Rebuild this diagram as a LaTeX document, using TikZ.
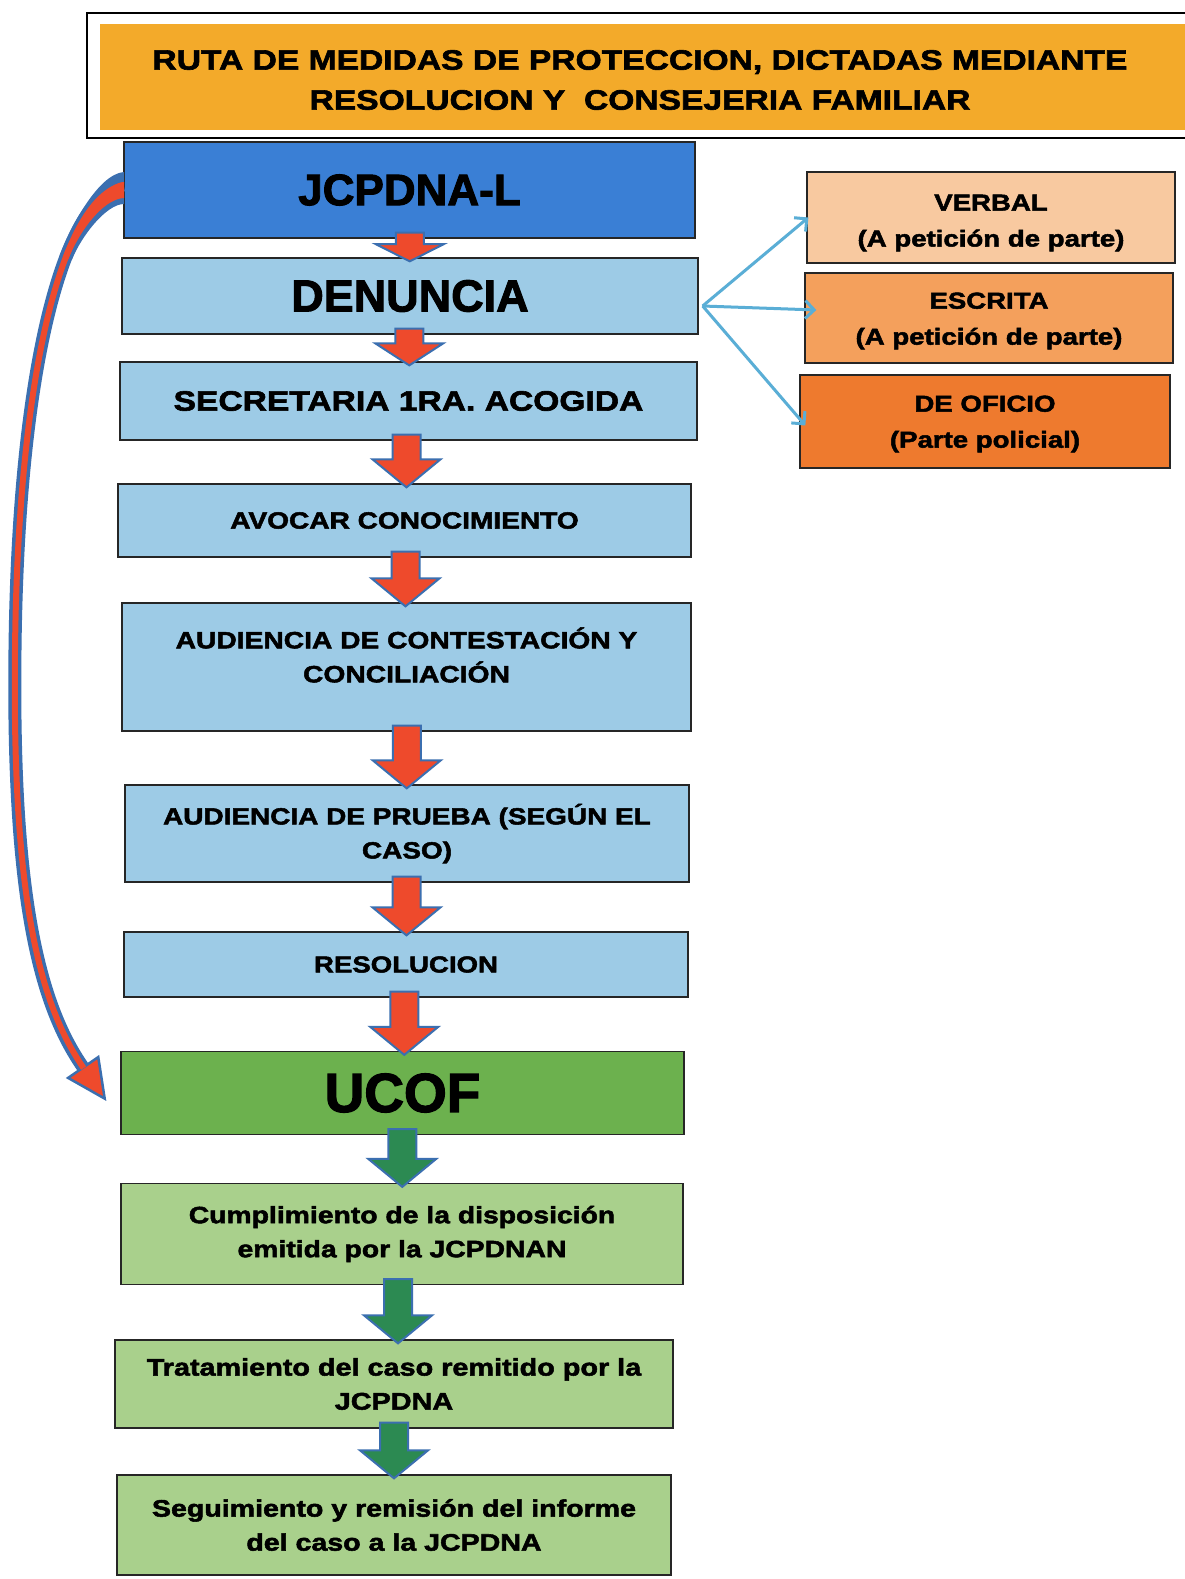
\documentclass[tikz,border=0pt]{standalone}
\usepackage{fontspec}
\setmainfont{Liberation Sans}
\newfontfamily\bk{Liberation Sans}[FakeStretch=1.2, BoldFeatures={FakeBold=2.2}]
\newfontfamily\bkn{Liberation Sans}[BoldFeatures={FakeBold=2.2}]
\usetikzlibrary{arrows.meta,calc}
\definecolor{titleor}{HTML}{F3AA2A}
\definecolor{jcblue}{HTML}{3A7FD5}
\definecolor{lblue}{HTML}{9DCBE6}
\definecolor{ucofg}{HTML}{6CB14E}
\definecolor{lgreen}{HTML}{A9D08C}
\definecolor{verbalc}{HTML}{F8C9A0}
\definecolor{escritac}{HTML}{F4A05C}
\definecolor{oficioc}{HTML}{EE7A2E}
\definecolor{arrred}{HTML}{EE4A2C}
\definecolor{arrgreen}{HTML}{2C8A52}
\definecolor{arrblue}{HTML}{3B6FB0}
\definecolor{conblue}{HTML}{5AAED6}
\newcommand\fs[2]{\fontsize{#1}{#2}\selectfont}
\tikzset{
  box/.style={draw=black!85, line width=1.3pt, inner sep=0pt, align=center, text=black},
  txt/.style={inner sep=0pt, align=center, text=black},
  barrow/.style={draw=arrblue, line width=2pt, line join=miter},
  conn/.style={draw=conblue, line width=3pt, -{Straight Barb[length=9pt,width=18pt,line width=3pt]}},
  bf/.style={font=\bk\bfseries\fs{#1}{34}},
  bfr/.style={font=\bk\bfseries\fs{#1}{36}},
  big/.style={font=\bkn\bfseries\fs{#1}{#1}}
}
\newcommand\downblock[3]{%
  \draw[barrow, fill=#3] let \p1=(#1.south), \p2=(#2.north),
    \n1={(\x1+\x2)/2}, \n2={min(28,0.6*(\y1-\y2+10))} in
    ({\n1*1pt-14pt},{\y1+6pt}) -- ({\n1*1pt-14pt},{\y2-4pt+\n2*1pt}) --
    ({\n1*1pt-34pt},{\y2-4pt+\n2*1pt}) -- ({\n1*1pt},{\y2-4pt}) --
    ({\n1*1pt+34pt},{\y2-4pt+\n2*1pt}) -- ({\n1*1pt+14pt},{\y2-4pt+\n2*1pt}) --
    ({\n1*1pt+14pt},{\y1+6pt}) -- cycle;}
\begin{document}
\begin{tikzpicture}[x=1pt,y=-1pt]
\useasboundingbox (0,0) rectangle (1185,1579);
\clip (0,0) rectangle (1185,1579);
\fill[white] (0,0) rectangle (1185,1579);
% title
\draw[black, line width=1.5pt, fill=white] (87,13) rectangle (1210,138);
\node[fill=titleor, inner sep=0pt, minimum width=1100pt, minimum height=106pt] (title) at (650,77) {};
\node[txt, font=\bk\bfseries\fs{28}{40}] (titlet) at (640,80)
  {RUTA DE MEDIDAS DE PROTECCION, DICTADAS MEDIANTE\\RESOLUCION Y\ \ CONSEJERIA FAMILIAR};
% left column
\node[box, fill=jcblue, minimum width=571pt, minimum height=96pt, big=44] (jc) at (409.5,190) {JCPDNA-L};
\node[box, fill=lblue, minimum width=576pt, minimum height=76pt, big=45] (den) at (410,296) {DENUNCIA};
\node[box, fill=lblue, minimum width=577pt, minimum height=78pt, bf=28] (sec) at (408.5,401) {SECRETARIA 1RA. ACOGIDA};
\node[box, fill=lblue, minimum width=573pt, minimum height=73pt, bf=23.4] (avo) at (404.5,520.5) {AVOCAR CONOCIMIENTO};
\node[box, fill=lblue, minimum width=569pt, minimum height=128pt] (aud) at (406.5,667) {};
\node[txt, bf=23.5] (audt) at (406.5,655) {AUDIENCIA DE CONTESTACIÓN Y\\CONCILIACIÓN};
\node[box, fill=lblue, minimum width=564pt, minimum height=97pt, bf=23.3] (pru) at (407,833.5) {AUDIENCIA DE PRUEBA (SEGÚN EL\\CASO)};
\node[box, fill=lblue, minimum width=564pt, minimum height=65pt, bf=23] (res) at (406,964.5) {RESOLUCION};
\node[box, fill=ucofg, minimum width=563pt, minimum height=83pt, big=55] (ucof) at (402.5,1093) {UCOF};
\node[box, fill=lgreen, minimum width=562pt, minimum height=101pt, bf=23.6] (cum) at (402,1234) {Cumplimiento de la disposición\\emitida por la JCPDNAN};
\node[box, fill=lgreen, minimum width=558pt, minimum height=88pt, bf=24] (tra) at (394,1384) {Tratamiento del caso remitido por la\\JCPDNA};
\node[box, fill=lgreen, minimum width=554pt, minimum height=100pt, bf=23.8] (seg) at (394,1525) {Seguimiento y remisión del informe\\del caso a la JCPDNA};
% right column
\node[box, fill=verbalc, minimum width=368pt, minimum height=91pt] (verbal) at (991,217.5) {};
\node[txt, bfr=23] (verbalt) at (991,223) {VERBAL\\(A petición de parte)};
\node[box, fill=escritac, minimum width=368pt, minimum height=90pt] (escrita) at (989,318) {};
\node[txt, bfr=23] (escritat) at (989,321) {ESCRITA\\(A petición de parte)};
\node[box, fill=oficioc, minimum width=370pt, minimum height=93pt] (oficio) at (985,421.5) {};
\node[txt, bfr=23] (oficiot) at (985,424) {DE OFICIO\\(Parte policial)};
% block arrows
\downblock{jc}{den}{arrred}
\downblock{den}{sec}{arrred}
\downblock{sec}{avo}{arrred}
\downblock{avo}{aud}{arrred}
\downblock{aud}{pru}{arrred}
\downblock{pru}{res}{arrred}
\downblock{res}{ucof}{arrred}
\downblock{ucof}{cum}{arrgreen}
\downblock{cum}{tra}{arrgreen}
\downblock{tra}{seg}{arrgreen}
% connectors from DENUNCIA
\coordinate (dsrc) at ($(den.east)+(4,10)$);
\draw[conn] (dsrc) -- ($(verbal.west)+(2,0)$);
\draw[conn] (dsrc) -- ($(escrita.west)+(12,-8)$);
\draw[conn] (dsrc) -- ($(oficio.west)+(6,4)$);
% curved return arrow (tapered start)
\coordinate (cstart) at ($(jc.west)+(0,-5)$);
\coordinate (cend) at ($(ucof.west)+(-14,8)$);
\fill[arrblue] (124,172) .. controls (98,174) and (70.2,227.7) .. (59.5,255.7)
  -- (71.7,260.3) .. controls (80.7,237) and (106,204) .. (124,204) -- cycle;
\draw[arrblue, line width=13pt, -{Triangle[length=42pt,width=40pt,fill=arrred,line width=2.5pt]}]
  (cstart) .. controls (60,200) and (18,380) .. (15,650) .. controls (12,900) and (40,1005) .. (cend);
\fill[arrred] (124,182) .. controls (100,184) and (72,232) .. (62.8,256.9)
  -- (68.4,259.1) .. controls (78,234) and (102,199) .. (124,198) -- cycle;
\draw[arrred, line width=6pt, shorten >=40pt]
  (cstart) .. controls (60,200) and (18,380) .. (15,650) .. controls (12,900) and (40,1005) .. (cend);
\end{tikzpicture}
\end{document}
